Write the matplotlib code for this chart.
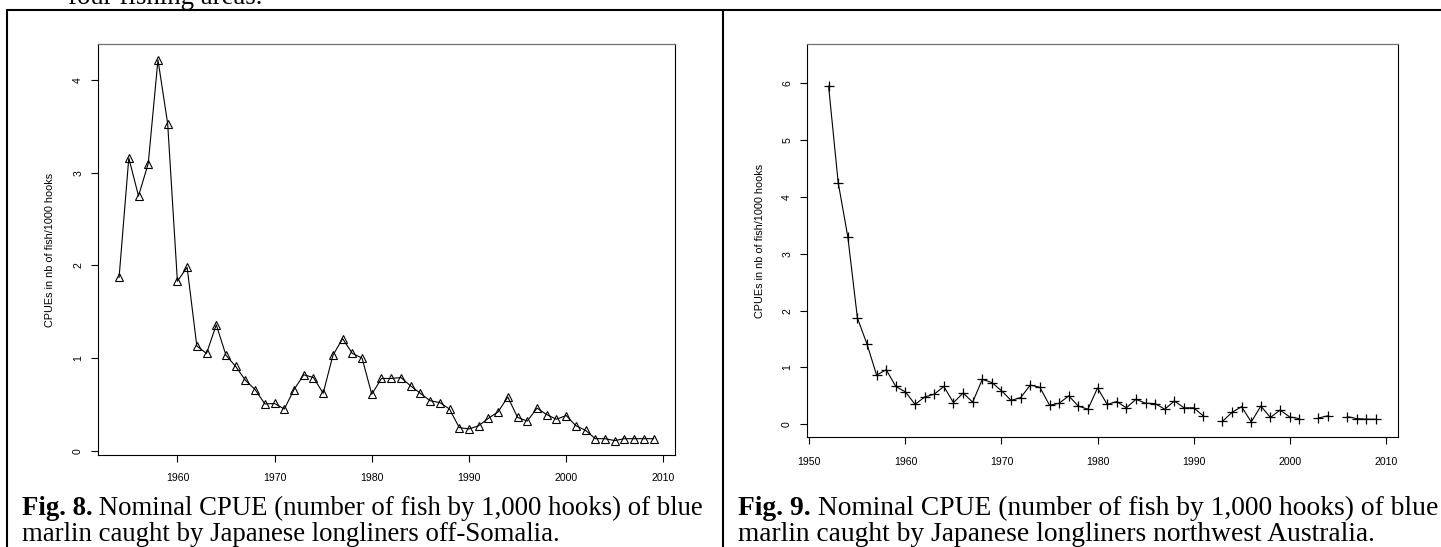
"""Nominal CPUE of blue marlin, Japanese longliners: off-Somalia and NW Australia."""

import numpy as np
import matplotlib
matplotlib.use('Agg')
import matplotlib.pyplot as plt
from matplotlib.lines import Line2D

W, H = 1441, 547

# Fig. 8 - off-Somalia
somalia_years = np.arange(1954, 2010)
somalia_cpue = [1.87, 3.16, 2.75, 3.10, 4.22, 3.53, 1.83, 1.98, 1.13, 1.05,
                1.36, 1.03, 0.91, 0.76, 0.66, 0.505, 0.51, 0.45, 0.66, 0.82,
                0.79, 0.62, 1.03, 1.21, 1.05, 1.00, 0.61, 0.78, 0.78, 0.79,
                0.70, 0.62, 0.54, 0.52, 0.45, 0.25, 0.235, 0.27, 0.35, 0.42,
                0.58, 0.36, 0.32, 0.46, 0.39, 0.34, 0.38, 0.27, 0.22, 0.13,
                0.13, 0.11, 0.13, 0.13, 0.13, 0.13]

# Fig. 9 - northwest Australia (nan = no data that year)
australia_years = np.arange(1952, 2010)
australia_cpue = [5.95, 4.25, 3.30, 1.87, 1.41, 0.865, 0.96, 0.665, 0.57, 0.35,
                  0.48, 0.53, 0.665, 0.38, 0.55, 0.39, 0.79, 0.735, 0.59, 0.42,
                  0.47, 0.69, 0.65, 0.335, 0.37, 0.50, 0.32, 0.265, 0.64, 0.35,
                  0.40, 0.29, 0.44, 0.37, 0.365, 0.265, 0.41, 0.29, 0.29, 0.15,
                  np.nan, 0.05, 0.21, 0.31, 0.04, 0.32, 0.12, 0.25, 0.13, 0.10,
                  np.nan, 0.11, 0.15, np.nan, 0.135, 0.10, 0.09, 0.09]

somalia_xticks = [1960, 1970, 1980, 1990, 2000, 2010]
somalia_yticks = [0, 1, 2, 3, 4]
australia_xticks = [1950, 1960, 1970, 1980, 1990, 2000, 2010]
australia_yticks = [0, 1, 2, 3, 4, 5, 6]

YLABEL = 'CPUEs in nb of fish/1000 hooks'
CAP_FONT = 'Liberation Serif'
CAP_SIZE = 19.3
SANS = 'Liberation Sans'

fig = plt.figure(figsize=(W / 100, H / 100), dpi=100, facecolor='white')


def px_axes(left, top, right, bottom):
    """Axes placed by pixel edges (image coords, y down)."""
    return fig.add_axes([left / W, 1 - bottom / H, (right - left) / W, (bottom - top) / H])


def style_axes(ax, xticks, yticks, xpad):
    for side in ['left', 'bottom', 'right']:
        ax.spines[side].set_color('black')
        ax.spines[side].set_linewidth(0.8)
    ax.spines['top'].set_color('#707070')
    ax.spines['top'].set_linewidth(0.9)
    ax.set_xticks(xticks)
    ax.set_yticks(yticks)
    ax.set_xticklabels([str(t) for t in xticks], fontsize=7.6, family=SANS)
    ax.set_yticklabels([str(t) for t in yticks], fontsize=7.6, family=SANS,
                       rotation=90, va='center')
    ax.tick_params(axis='x', length=5, width=0.8, pad=xpad, colors='black')
    ax.tick_params(axis='y', length=5, width=0.8, pad=5.5, colors='black')


# left panel
ax1 = px_axes(97.7, 44, 675, 455)
ax1.plot(somalia_years, somalia_cpue, color='black', linewidth=0.8,
         marker='^', markersize=5.5, markerfacecolor='none',
         markeredgecolor='black', markeredgewidth=0.8)
ax1.set_xlim(1951.8, 2011.2)
ax1.set_ylim(-0.046, 4.39)
style_axes(ax1, somalia_xticks, somalia_yticks, 8)
ax1.set_ylabel(YLABEL, fontsize=7.8, family=SANS)
ax1.yaxis.set_label_coords((55 - 97.7) / (675 - 97.7), 0.5)

# right panel
ax2 = px_axes(806.7, 44.3, 1398, 437.3)
ax2.plot(australia_years, australia_cpue, color='black', linewidth=0.8,
         marker='+', markersize=7, markeredgewidth=0.9)
ax2.set_xlim(1949.72, 2011.28)
ax2.set_ylim(-0.229, 6.687)
style_axes(ax2, australia_xticks, australia_yticks, 9.5)
ax2.set_ylabel(YLABEL, fontsize=7.8, family=SANS)
ax2.yaxis.set_label_coords((765 - 806.7) / (1398 - 806.7), 0.5)

# cut-off line of running text above the table
fig.text(68 / W, 1 - 4 / H, 'four fishing areas.', fontsize=CAP_SIZE, family=CAP_FONT,
         va='baseline', ha='left')

# table borders
border = dict(color='black', linewidth=1.5, transform=fig.transFigure, solid_capstyle='butt')
fig.add_artist(Line2D([6 / W, 1], [1 - 10 / H, 1 - 10 / H], **border))
fig.add_artist(Line2D([7.3 / W, 7.3 / W], [0, 1 - 10 / H], **border))
fig.add_artist(Line2D([722.7 / W, 722.7 / W], [0, 1 - 10 / H], **border))


def caption(ax, x, num, line1, line2, size=CAP_SIZE, y1=515, y2=541):
    t = fig.text(x / W, 1 - y1 / H, num, fontsize=size, family=CAP_FONT,
                 fontweight='bold', va='baseline', ha='left')
    ax.annotate(' ' + line1, xy=(1, 0), xycoords=t, fontsize=size, family=CAP_FONT,
                va='bottom', ha='left', annotation_clip=False)
    fig.text(x / W, 1 - y2 / H, line2, fontsize=size, family=CAP_FONT,
             va='baseline', ha='left')


caption(ax1, 21.7, 'Fig. 8.', 'Nominal CPUE (number of fish by 1,000 hooks) of blue',
        'marlin caught by Japanese longliners off-Somalia.')
caption(ax2, 738.3, 'Fig. 9.', 'Nominal CPUE (number of fish by 1,000 hooks) of blue',
        'marlin caught by Japanese longliners northwest Australia.', size=19.8)

fig.savefig('out.png', dpi=100, facecolor='white')
